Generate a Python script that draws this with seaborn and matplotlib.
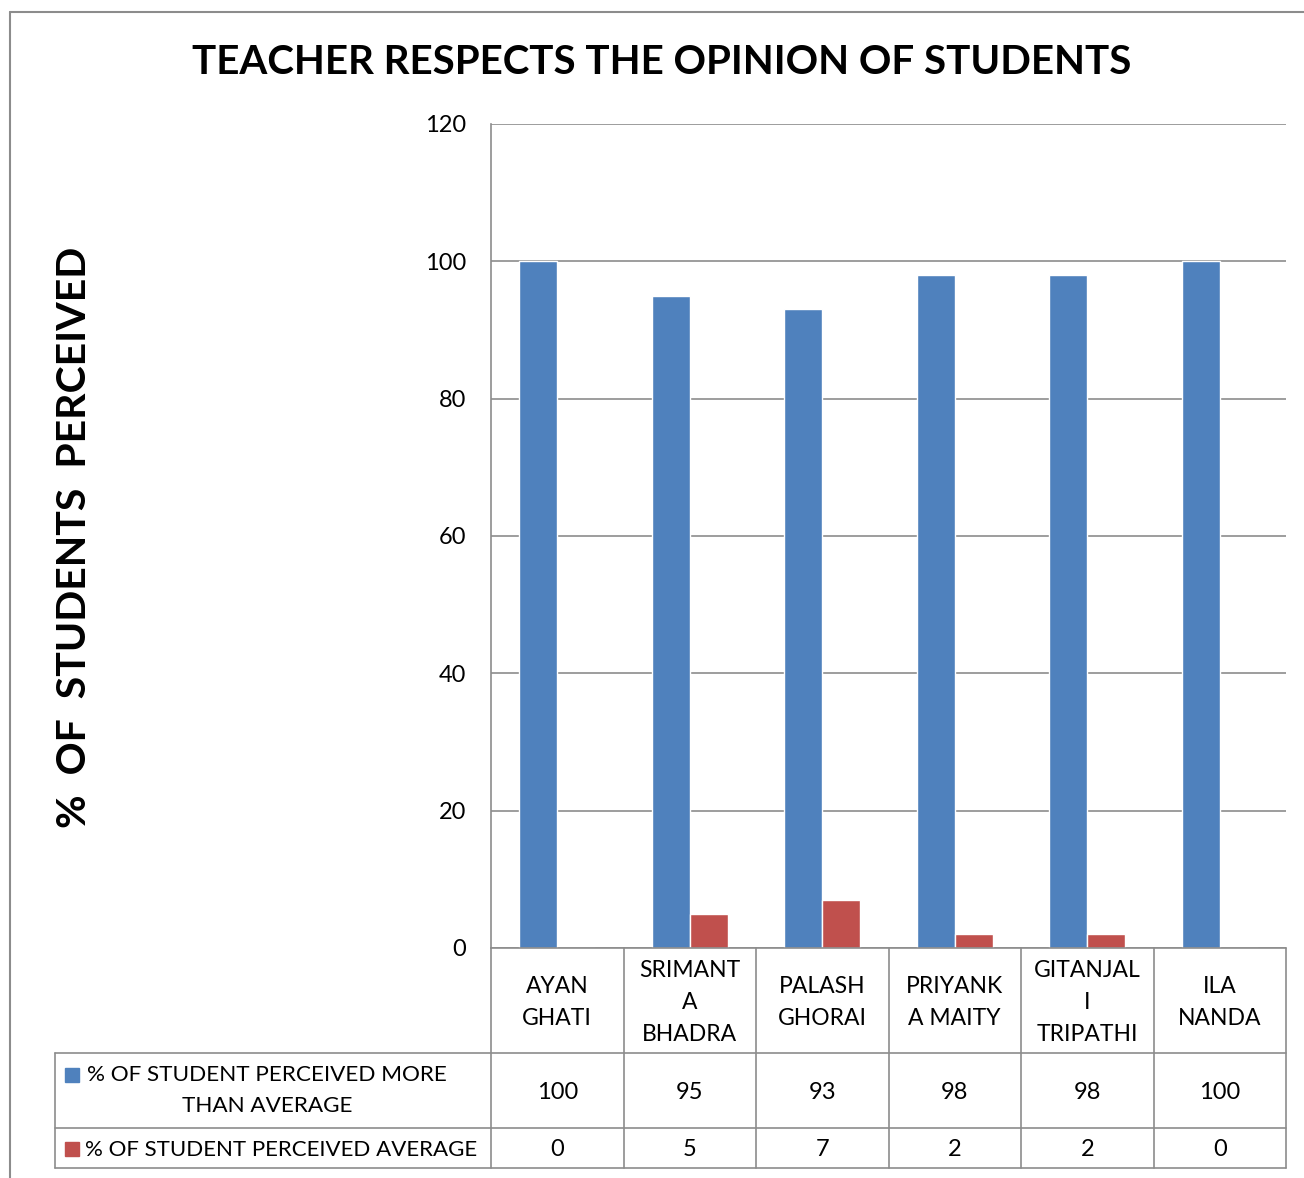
import numpy as np
import pandas as pd
import seaborn as sns
import matplotlib.pyplot as plt
from matplotlib.patches import Rectangle
from matplotlib.lines import Line2D

teachers = ["AYAN\nGHATI", "SRIMANT\nA\nBHADRA", "PALASH\nGHORAI",
            "PRIYANK\nA MAITY", "GITANJAL\nI\nTRIPATHI", "ILA\nNANDA"]
more_than_avg = [100, 95, 93, 98, 98, 100]
average = [0, 5, 7, 2, 2, 0]
series = ["% OF STUDENT PERCEIVED MORE\nTHAN AVERAGE", "% OF STUDENT PERCEIVED AVERAGE"]
colors = ["#4F81BD", "#C0504D"]

df = pd.DataFrame({
    "teacher": teachers * 2,
    "pct": more_than_avg + average,
    "series": [series[0]] * len(teachers) + [series[1]] * len(teachers),
})

sns.set_style("white")
plt.rcParams['font.family'] = ['Lato', 'DejaVu Sans']
plt.rcParams['text.color'] = 'black'
plt.rcParams['ytick.labelcolor'] = 'black'

W, H = 1304, 1178
fig = plt.figure(figsize=(W / 100, H / 100), dpi=100)
ax = fig.add_axes([491 / W, 1 - 948 / H, (1286 - 491) / W, (948 - 124) / H])

sns.barplot(data=df, x="teacher", y="pct", hue="series", palette=colors,
            width=0.575, saturation=1, ax=ax, legend=False)

grid_c = "#8C8C8C"
fs = 16.5
ax.set_ylim(0, 120)
ax.set_xlim(-0.5, len(teachers) - 0.5)
ax.set_yticks(range(0, 121, 20))
ax.yaxis.grid(True, color=grid_c, lw=1.2)
ax.set_axisbelow(True)
ax.tick_params(axis="y", length=0, pad=18, labelsize=17)
ax.tick_params(axis="x", length=0, labelbottom=False)
ax.set_xlabel("")
ax.set_ylabel("")
for s in ["top", "right", "bottom"]:
    ax.spines[s].set_visible(False)
ax.spines["left"].set_color(grid_c)
ax.spines["left"].set_linewidth(1.2)

# data table under the plot (x in data units, y in axes units)
tr = ax.get_xaxis_transform()
px = len(teachers) / (1286 - 491)          # data units per pixel
ax_h = 948 - 124
row_y = [0, -105 / ax_h, -180 / ax_h, -220 / ax_h]
left_x = -0.5 - (491 - 55) * px
n = len(teachers)

def hline(x0, x1, y):
    ax.add_line(Line2D([x0, x1], [y, y], transform=tr, color=grid_c, lw=1.2, clip_on=False))

def vline(x, y0, y1):
    ax.add_line(Line2D([x, x], [y0, y1], transform=tr, color=grid_c, lw=1.2, clip_on=False))

hline(-0.5, n - 0.5, row_y[0])
for y in row_y[1:]:
    hline(left_x, n - 0.5, y)
for i in range(n + 1):
    vline(i - 0.5, row_y[0], row_y[3])
vline(left_x, row_y[1], row_y[3])

for i, name in enumerate(teachers):
    ax.text(i, (row_y[0] + row_y[1]) / 2 - 2 / ax_h, name, transform=tr, ha="center",
            va="center", fontsize=fs, linespacing=1.65)
    ax.text(i, (row_y[1] + row_y[2]) / 2 - 2 / ax_h, str(more_than_avg[i]), transform=tr,
            ha="center", va="center", fontsize=17)
    ax.text(i, (row_y[2] + row_y[3]) / 2 - 2 / ax_h, str(average[i]), transform=tr,
            ha="center", va="center", fontsize=17)

sq = 14 * px
sq_h = 14 / ax_h
for k, (lab, c) in enumerate(zip(series, colors)):
    yc = (row_y[k + 1] + row_y[k + 2]) / 2
    sq_y = yc + (16 / ax_h if k == 0 else -1 / ax_h)
    ax.add_patch(Rectangle((-0.5 - (491 - 65) * px, sq_y - sq_h / 2), sq, sq_h,
                           transform=tr, color=c, clip_on=False))
    if k == 0:
        ax.text(-0.5 - (491 - 267) * px, yc, lab, transform=tr, ha="center", va="center",
                fontsize=16.2, linespacing=1.65, multialignment="center")
    else:
        ax.text(-0.5 - (491 - 85) * px, yc - 2 / ax_h, lab, transform=tr, ha="left",
                va="center", fontsize=16)

fig.text(662 / W, 1 - 63 / H, "TEACHER RESPECTS THE OPINION OF STUDENTS",
         ha="center", va="center", fontsize=29, fontweight="bold")
fig.text(75 / W, 1 - 537 / H, "%  OF  STUDENTS  PERCEIVED", rotation=90,
         ha="center", va="center", fontsize=29.5, fontweight="bold")

# chart border (left and top edges visible)
fig.add_artist(Line2D([10 / W, 10 / W], [0, 1 - 12 / H], transform=fig.transFigure,
                      color=grid_c, lw=1.5))
fig.add_artist(Line2D([10 / W, 1], [1 - 12 / H, 1 - 12 / H], transform=fig.transFigure,
                      color=grid_c, lw=1.5))

fig.savefig("out.png", dpi=100)
